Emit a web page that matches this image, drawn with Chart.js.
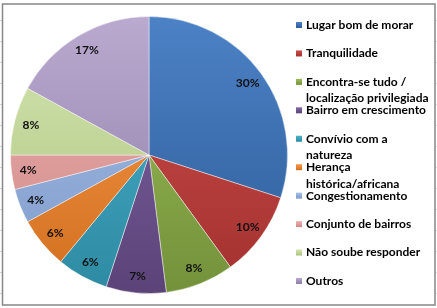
<!DOCTYPE html>
<html>
<head>
<meta charset="utf-8">
<script src="https://cdn.jsdelivr.net/npm/chart.js@4.4.0/dist/chart.umd.min.js"></script>
<style>
html,body{margin:0;padding:0;background:#fff;}
#wrap{width:437px;height:308px;position:relative;}
</style>
</head>
<body>
<div id="wrap"><canvas id="c" width="437" height="308"></canvas></div>
<script>
const categories = [
  ["Lugar bom de morar"],
  ["Tranquilidade"],
  ["Encontra-se tudo /", "localização privilegiada"],
  ["Bairro em crescimento"],
  ["Convívio com a", "natureza"],
  ["Herança", "histórica/africana"],
  ["Congestionamento"],
  ["Conjunto de bairros"],
  ["Não soube responder"],
  ["Outros"]
];
const values = [30, 10, 8, 7, 6, 6, 4, 4, 8, 17];
const valueLabels = ["30%", "10%", "8%", "7%", "6%", "6%", "4%", "4%", "8%", "17%"];
const topColors = ["#4C82C6", "#CF4E4B", "#9DC05A", "#8266A6", "#4DB2CC", "#F89A4C", "#A6BFE4", "#EBB2B1", "#D6E6B4", "#BBAAD0"];
const bottomColors = ["#2D5B97", "#A2312F", "#73913A", "#5B4378", "#2D8AA2", "#D16F1E", "#7E9ACB", "#CF8886", "#A9C27A", "#8B7AA3"];

const FONT = 'Lato, "Open Sans", "Liberation Sans", sans-serif';

function grad(ctx, i) {
  const chart = ctx.chart;
  const a = chart.chartArea;
  if (!a) return topColors[i];
  const g = chart.ctx.createLinearGradient(0, a.top, 0, a.bottom);
  g.addColorStop(0, topColors[i]);
  g.addColorStop(1, bottomColors[i]);
  return g;
}

const framePlugin = {
  id: 'frame',
  beforeDraw(chart) {
    const c = chart.ctx;
    c.save();
    c.fillStyle = '#fff';
    c.fillRect(0, 0, chart.width, chart.height);
    c.strokeStyle = '#d8d8d8';
    c.lineWidth = 1;
    for (let y = 20; y < 308; y += 21) {
      c.beginPath(); c.moveTo(0, y + 0.5); c.lineTo(2, y + 0.5); c.stroke();
      c.beginPath(); c.moveTo(436, y + 0.5); c.lineTo(437, y + 0.5); c.stroke();
    }
    c.strokeStyle = '#868686';
    c.lineWidth = 1.5;
    c.strokeRect(2.5, 4, 432.5, 301);
    c.restore();
  }
};

const labelPlugin = {
  id: 'sliceLabels',
  afterDatasetsDraw(chart) {
    const c = chart.ctx;
    const meta = chart.getDatasetMeta(0);
    c.save();
    c.font = 'bold 12px ' + FONT;
    c.fillStyle = '#111';
    c.textAlign = 'center';
    c.textBaseline = 'middle';
    meta.data.forEach((arc, i) => {
      const p = arc.getProps(['x', 'y', 'startAngle', 'endAngle', 'outerRadius'], true);
      const mid = (p.startAngle + p.endAngle) / 2;
      const r = p.outerRadius * 0.88;
      c.fillText(valueLabels[i], p.x + Math.cos(mid) * r, p.y + Math.sin(mid) * r);
    });
    c.restore();
  }
};

const legendPlugin = {
  id: 'customLegend',
  afterDraw(chart) {
    const c = chart.ctx;
    c.save();
    c.font = 'bold 12px ' + FONT;
    c.textBaseline = 'middle';
    c.textAlign = 'left';
    const x0 = 296, tx = 306, y0 = 25, step = 28.44, lh = 16.5;
    categories.forEach((lines, i) => {
      const y = y0 + i * step;
      const g = c.createLinearGradient(0, y - 3, 0, y + 3);
      g.addColorStop(0, topColors[i]);
      g.addColorStop(1, bottomColors[i]);
      c.fillStyle = g;
      c.fillRect(x0, y - 3, 6, 6);
      c.fillStyle = '#000';
      lines.forEach((t, k) => c.fillText(t, tx, y + k * lh));
    });
    c.restore();
  }
};

new Chart(document.getElementById('c'), {
  type: 'pie',
  data: {
    labels: categories,
    datasets: [{
      data: values,
      backgroundColor: (ctx) => grad(ctx, ctx.dataIndex),
      borderColor: 'rgba(255,255,255,0.45)',
      borderWidth: 1
    }]
  },
  options: {
    responsive: false,
    animation: false,
    devicePixelRatio: 1,
    layout: { padding: { left: 10, right: 149, top: 16, bottom: 14 } },
    plugins: {
      legend: { display: false },
      tooltip: { enabled: false }
    }
  },
  plugins: [framePlugin, labelPlugin, legendPlugin]
});
</script>
</body>
</html>
